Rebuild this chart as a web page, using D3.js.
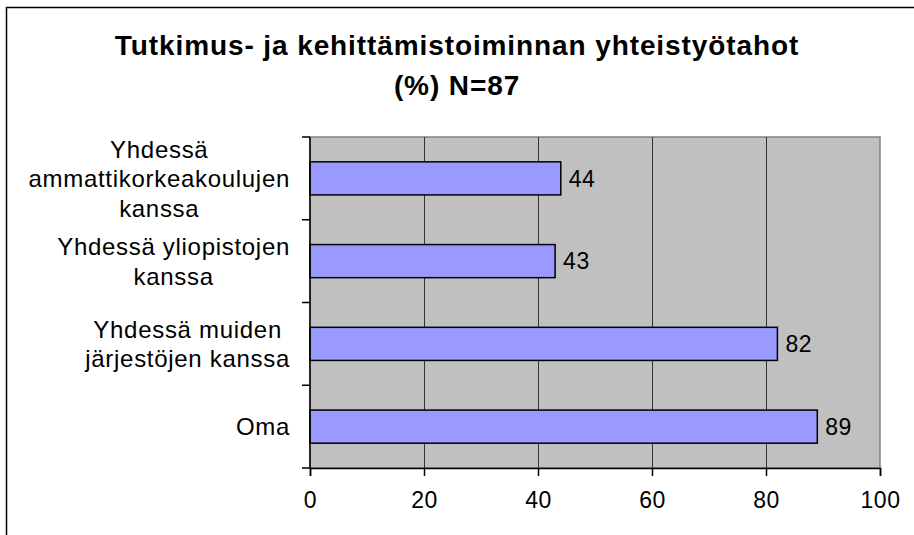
<!DOCTYPE html>
<html>
<head>
<meta charset="utf-8">
<script src="https://cdn.jsdelivr.net/npm/d3@7"></script>
<style>
  body { margin: 0; background: #fff; }
  svg { display: block; font-family: "Liberation Sans", Arial, sans-serif; }
</style>
</head>
<body>
<div id="chart"></div>
<script>
// data
const categories = [
  ["Yhdessä", "ammattikorkeakoulujen", "kanssa"],
  ["Yhdessä yliopistojen", "kanssa"],
  ["Yhdessä muiden", "järjestöjen kanssa"],
  ["Oma"]
];
const values = [44, 43, 82, 89];
const xTicks = [0, 20, 40, 60, 80, 100];
const titleLines = ["Tutkimus- ja kehittämistoiminnan yhteistyötahot", "(%) N=87"];

const width = 914, height = 535;
const plot = { left: 310, right: 880, top: 137, bottom: 468 };

const svg = d3.select("#chart").append("svg")
  .attr("width", width)
  .attr("height", height);

// outer frame (only top/left visible in the crop)
svg.append("path")
  .attr("d", `M6.5,${height} V7.5 H${width}`)
  .attr("fill", "none")
  .attr("stroke", "#000")
  .attr("stroke-width", 1.5);

svg.append("g")
  .selectAll("text")
  .data(titleLines)
  .join("text")
  .attr("x", 457)
  .attr("y", (d, i) => 55 + i * 40)
  .attr("text-anchor", "middle")
  .attr("font-weight", "bold")
  .attr("font-size", 28)
  .attr("letter-spacing", "0.9px")
  .text(d => d);

const x = d3.scaleLinear().domain([0, 100]).range([plot.left, plot.right]);
const y = d3.scaleBand()
  .domain(d3.range(categories.length))
  .range([plot.top, plot.bottom])
  .paddingInner(0.6)
  .paddingOuter(0.3);

// plot background
svg.append("rect")
  .attr("x", plot.left)
  .attr("y", plot.top)
  .attr("width", plot.right - plot.left)
  .attr("height", plot.bottom - plot.top)
  .attr("fill", "#c0c0c0")
  .attr("stroke", "#808080")
  .attr("stroke-width", 1.5);

// gridlines
svg.append("g")
  .selectAll("line")
  .data(xTicks.filter(t => t > 0 && t < 100))
  .join("line")
  .attr("x1", d => Math.round(x(d)) + 0.5)
  .attr("x2", d => Math.round(x(d)) + 0.5)
  .attr("y1", plot.top)
  .attr("y2", plot.bottom)
  .attr("stroke", "#333")
  .attr("stroke-width", 1);

// bars
svg.append("g")
  .selectAll("rect")
  .data(values)
  .join("rect")
  .attr("x", x(0))
  .attr("y", (d, i) => y(i))
  .attr("width", d => x(d) - x(0))
  .attr("height", y.bandwidth())
  .attr("fill", "#9999ff")
  .attr("stroke", "#000")
  .attr("stroke-width", 1.5);

// value labels
svg.append("g")
  .selectAll("text")
  .data(values)
  .join("text")
  .attr("x", d => x(d) + 8)
  .attr("y", (d, i) => y(i) + y.bandwidth() / 2)
  .attr("dy", "0.36em")
  .attr("font-size", 23)
  .attr("letter-spacing", "0.5px")
  .text(d => d);

// x axis
const xAxis = svg.append("g")
  .attr("transform", `translate(0,${plot.bottom})`)
  .call(d3.axisBottom(x).tickValues(xTicks).tickSize(8).tickPadding(16));
xAxis.select(".domain").attr("stroke", "#000").attr("stroke-width", 1.5);
xAxis.selectAll(".tick line").attr("stroke-width", 1.5);
xAxis.selectAll(".tick text").attr("font-size", 23).attr("fill", "#000")
  .attr("letter-spacing", "0.5px")
  .attr("font-family", "Liberation Sans, Arial, sans-serif");

// y axis line + ticks on band boundaries
const step = (plot.bottom - plot.top) / categories.length;
svg.append("line")
  .attr("x1", plot.left).attr("x2", plot.left)
  .attr("y1", plot.top).attr("y2", plot.bottom)
  .attr("stroke", "#000").attr("stroke-width", 1.5);
svg.append("g")
  .selectAll("line")
  .data(d3.range(categories.length + 1))
  .join("line")
  .attr("x1", plot.left - 8).attr("x2", plot.left)
  .attr("y1", i => plot.top + i * step)
  .attr("y2", i => plot.top + i * step)
  .attr("stroke", "#000").attr("stroke-width", 1.5);

// category labels: lines centred on each other, block right-aligned
const lineH = 29.5;
const labels = svg.append("g")
  .selectAll("g")
  .data(categories)
  .join("g");
labels.each(function (lines, i) {
  const g = d3.select(this);
  const cy = y(i) + y.bandwidth() / 2;
  const t = g.selectAll("text")
    .data(lines)
    .join("text")
    .attr("y", (d, j) => cy + (j - (lines.length - 1) / 2) * lineH)
    .attr("dy", "0.36em")
    .attr("text-anchor", "middle")
    .attr("font-size", 24)
    .attr("letter-spacing", "0.7px")
    .text(d => d);
  let w = 0;
  t.each(function () { w = Math.max(w, this.getComputedTextLength()); });
  t.attr("x", 290 - w / 2);
});
</script>
</body>
</html>
